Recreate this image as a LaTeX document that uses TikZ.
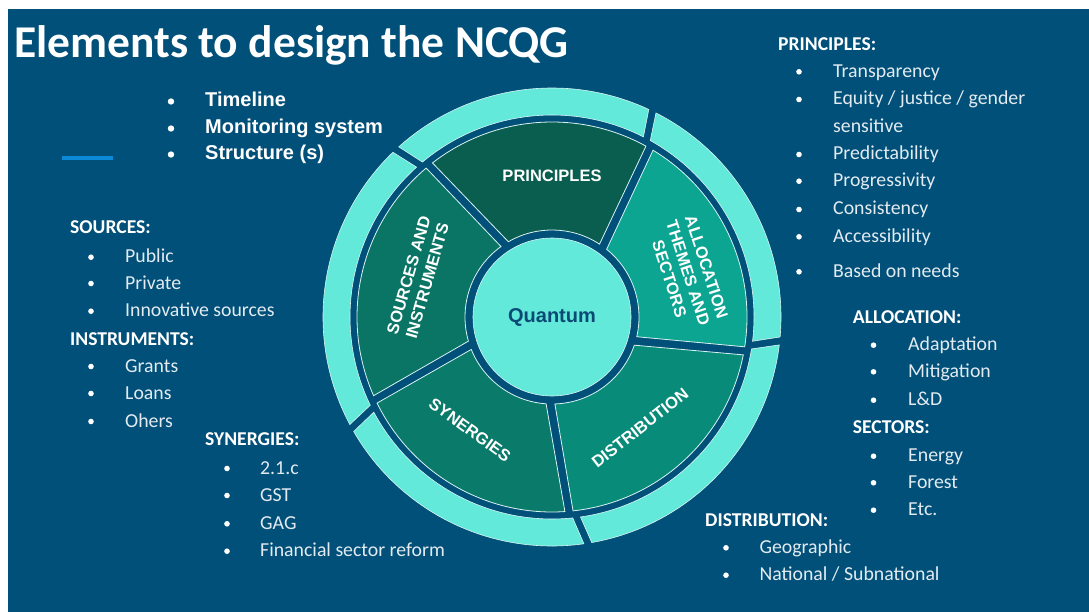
\documentclass[tikz,border=0pt]{standalone}
\usepackage{fontspec}
\setmainfont{Carlito}
\newfontfamily\wheelfont{Liberation Sans}
\definecolor{bg}{HTML}{00507A}
\definecolor{ringc}{HTML}{62E9DA}
\definecolor{segP}{HTML}{0A5E50}
\definecolor{segS}{HTML}{0A7565}
\definecolor{segY}{HTML}{0A7A6A}
\definecolor{segD}{HTML}{098B7A}
\definecolor{segA}{HTML}{0BA592}
\definecolor{segedge}{HTML}{D8F4F0}
\definecolor{qtext}{HTML}{0B4A75}
\definecolor{accent}{HTML}{0B8AD8}
\definecolor{listfg}{HTML}{E4EBF0}
\newcommand\wheelseg[3]{%
  \filldraw[fill=#3, draw=segedge, line width=0.8pt]
    ({#1+2.9}:87) -- ({#1+7.2}:195)
    arc[start angle={#1+7.2}, end angle={#2+4.8}, radius=195]
    -- ({#2-2.9}:87)
    arc[start angle={#2-2.9}, end angle={#1+2.9}, radius=87] -- cycle;}
\newcommand\ringseg[2]{%
  \filldraw[fill=ringc, draw=segedge, line width=0.6pt]
    ({#1+9.1}:202) -- ({#1+11}:229)
    arc[start angle={#1+11}, end angle={#2+9}, radius=229]
    -- ({#2+6.9}:202)
    arc[start angle={#2+6.9}, end angle={#1+9.1}, radius=202] -- cycle;}
\begin{document}
\begin{tikzpicture}[x=1pt,y=-1pt,
  lst/.style={text=listfg, font=\fontsize{19.8}{22}\selectfont, anchor=base west, inner sep=0pt},
  lhead/.style={text=white, font=\bfseries\fontsize{19.6}{22}\selectfont, anchor=base west, inner sep=0pt},
  bigitem/.style={text=white, font=\wheelfont\bfseries\fontsize{20}{24}\selectfont, anchor=base west, inner sep=0pt},
  bul/.style={fill=white},
  seglabel/.style={text=white, font=\wheelfont\bfseries\fontsize{16.5}{19.5}\selectfont, align=center, inner sep=0pt},
  titlestyle/.style={text=white, font=\bfseries\fontsize{45.5}{50}\selectfont, anchor=base west, inner sep=0pt}]
\useasboundingbox (0,0) rectangle (1089,612);
\fill[white] (0,0) rectangle (1089,612);
\fill[bg] (8,9) rectangle (1089,612);
\node[titlestyle] (title) at (14,58) {Elements to design the NCQG};
% top-left list
\foreach \yy in {107,134,160} \fill[bul] (171,\yy-5.5) circle (3.2);
\node[bigitem] (timeline) at (205,107) {Timeline};
\node[bigitem] (monitoring) at (205,134) {Monitoring system};
\node[bigitem] (structure) at (205,160) {Structure (s)};
\draw[accent, line width=4.5pt] (62,158) -- (113,158);
% sources / instruments
\node[lhead] (srch) at (70,234) {SOURCES:};
\foreach \yy in {262.7,289,316.7,372,399,427} \fill[bul] (91,\yy-5.5) circle (2.8);
\node[lst] (public) at (125,262.7) {Public};
\node[lst] (private) at (125,289) {Private};
\node[lst] (innov) at (125,316.7) {Innovative sources};
\node[lhead] (insth) at (70,345) {INSTRUMENTS:};
\node[lst] (grants) at (125,372) {Grants};
\node[lst] (loans) at (125,399) {Loans};
\node[lst] (ohers) at (125,427) {Ohers};
% synergies
\node[lhead] (synh) at (205,445.7) {SYNERGIES:};
\foreach \yy in {474,501,529.3,556.7} \fill[bul] (227,\yy-5.5) circle (2.8);
\node[lst] (s1) at (260,474) {2.1.c};
\node[lst] (s2) at (260,501) {GST};
\node[lst] (s3) at (260,529.3) {GAG};
\node[lst] (s4) at (260,556.7) {Financial sector reform};
% principles
\node[lhead] (prh) at (778,50.7) {PRINCIPLES:};
\foreach \yy in {77.3,105,160,186.7,215,242.3,277.3} \fill[bul] (799,\yy-5.5) circle (2.8);
\node[lst] (p1) at (833,77.3) {Transparency};
\node[lst] (p2) at (833,105) {Equity / justice / gender};
\node[lst] (p2b) at (833,132.3) {sensitive};
\node[lst] (p3) at (833,160) {Predictability};
\node[lst] (p4) at (833,186.7) {Progressivity};
\node[lst] (p5) at (833,215) {Consistency};
\node[lst] (p6) at (833,242.3) {Accessibility};
\node[lst] (p7) at (833,277.3) {Based on needs};
% allocation / sectors
\node[lhead] (alh) at (852.7,323.3) {ALLOCATION:};
\foreach \yy in {350.7,377.3,405.7,461.7,488.3,515.7} \fill[bul] (873.5,\yy-5.5) circle (2.8);
\node[lst] (a1) at (908,350.7) {Adaptation};
\node[lst] (a2) at (908,377.3) {Mitigation};
\node[lst] (a3) at (908,405.7) {L\&D};
\node[lhead] (sech) at (852.7,433.3) {SECTORS:};
\node[lst] (e1) at (908,461.7) {Energy};
\node[lst] (e2) at (908,488.3) {Forest};
\node[lst] (e3) at (908,515.7) {Etc.};
% distribution
\node[lhead] (dih) at (705,526.7) {DISTRIBUTION:};
\foreach \yy in {553.3,580.7} \fill[bul] (726,\yy-5.5) circle (2.8);
\node[lst] (d1) at (759.3,553.3) {Geographic};
\node[lst] (d2) at (759.3,580.7) {National / Subnational};
% wheel
\begin{scope}[shift={(552,317)}, x=1pt, y=1pt]
  \ringseg{54}{123}
  \ringseg{123}{199}
  \ringseg{199}{269}
  \ringseg{269}{344}
  \ringseg{344}{414}
  \wheelseg{54}{123}{segP}
  \wheelseg{123}{199}{segS}
  \wheelseg{199}{269}{segY}
  \wheelseg{269}{344}{segD}
  \wheelseg{344}{414}{segA}
  \filldraw[fill=ringc, draw=segedge, line width=0.6pt] (0,0) circle (79);
  \node[text=qtext, font=\wheelfont\bfseries\fontsize{20}{24}\selectfont] (quantum) at (0,0) {Quantum};
  \node[seglabel] (lprin) at (0,141) {PRINCIPLES};
  \node[seglabel, rotate=74] (lsrc) at (-134,39) {SOURCES AND\\INSTRUMENTS};
  \node[seglabel, rotate=-72] (lalloc) at (136,44) {ALLOCATION\\THEMES AND\\SECTORS};
  \node[seglabel, rotate=-36] (lsyn) at (-82,-113) {SYNERGIES};
  \node[seglabel, rotate=38] (ldist) at (88,-111) {DISTRIBUTION};
\end{scope}
\end{tikzpicture}
\end{document}
